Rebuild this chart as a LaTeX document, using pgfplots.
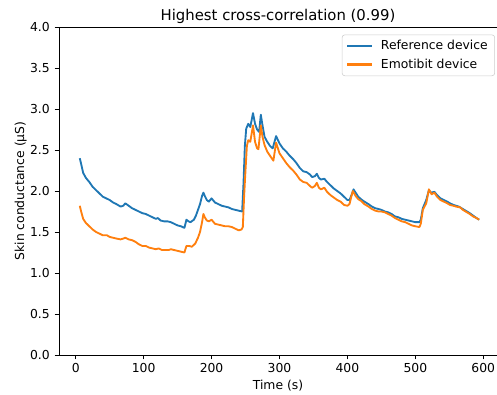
\documentclass[border=0pt]{standalone}
\usepackage{fontspec}
\setmainfont{DejaVu Sans}
\usepackage{pgfplots}
\pgfplotsset{compat=1.18}
\definecolor{mplblue}{HTML}{1F77B4}
\definecolor{mplorange}{HTML}{FF7F0E}
\pgfplotstableread{
t v
6 2.40
8 2.33
11 2.22
15 2.16
20 2.11
25 2.05
30 2.01
35 1.97
40 1.93
45 1.91
50 1.89
55 1.86
60 1.84
66 1.81
70 1.82
73 1.85
78 1.82
83 1.79
88 1.77
93 1.75
98 1.73
103 1.72
108 1.70
113 1.68
118 1.66
121 1.67
125 1.64
130 1.63
135 1.63
140 1.62
145 1.60
150 1.58
155 1.57
160 1.55
163 1.65
166 1.63
169 1.62
174 1.65
177 1.70
180 1.77
183 1.84
186 1.94
188 1.98
190 1.94
193 1.89
196 1.87
200 1.91
205 1.86
210 1.84
215 1.82
220 1.81
225 1.80
230 1.78
235 1.77
240 1.76
245 1.75
247 2.09
249 2.55
251 2.76
254 2.82
257 2.78
261 2.95
264 2.82
267 2.75
270 2.72
272.5 2.93
275 2.80
278 2.66
282 2.60
286 2.55
290 2.52
295 2.67
300 2.58
305 2.52
310 2.48
315 2.43
320 2.39
325 2.34
330 2.28
335 2.24
340 2.23
345 2.20
348 2.17
352 2.18
355 2.21
358 2.16
361 2.14
366 2.15
370 2.11
375 2.07
380 2.03
385 2.00
390 1.97
395 1.93
400 1.89
403 1.89
406 1.95
409 2.02
412 1.98
416 1.93
420 1.90
425 1.87
431 1.84
436 1.81
441 1.79
446 1.78
450 1.77
455 1.75
460 1.74
465 1.72
470 1.69
475 1.68
480 1.66
485 1.65
490 1.64
495 1.63
500 1.62
506 1.62
508 1.65
511 1.79
516 1.89
520 2.01
523 1.98
528 1.99
532 1.95
537 1.91
542 1.89
547 1.87
551 1.85
556 1.83
560 1.82
564 1.81
568 1.79
572 1.77
576 1.75
580 1.73
585 1.70
590 1.67
594 1.65
}\refdata
\pgfplotstableread{
t v
6 1.82
8 1.75
11 1.66
15 1.61
20 1.57
25 1.53
30 1.50
35 1.48
40 1.46
46 1.46
50 1.44
55 1.43
60 1.42
66 1.41
70 1.42
73 1.43
78 1.41
83 1.40
88 1.38
93 1.35
98 1.33
103 1.33
108 1.31
113 1.30
118 1.29
122 1.30
127 1.28
132 1.28
137 1.28
140 1.29
145 1.28
150 1.27
155 1.26
160 1.25
163 1.33
167 1.33
171 1.32
176 1.36
180 1.43
183 1.50
186 1.62
188 1.72
190 1.68
193 1.64
196 1.63
200 1.65
205 1.60
210 1.59
215 1.58
220 1.57
225 1.57
230 1.56
235 1.54
240 1.52
244 1.53
246 1.56
248 1.95
250 2.26
252 2.55
254 2.62
257 2.60
261 2.80
264 2.60
267 2.52
269 2.51
272.5 2.80
275 2.66
278 2.56
282 2.48
286 2.43
291 2.37
295 2.59
300 2.46
305 2.40
310 2.34
315 2.29
320 2.25
325 2.20
330 2.14
335 2.11
340 2.10
345 2.06
348 2.04
352 2.06
355 2.10
358 2.04
361 2.02
366 2.04
370 1.99
375 1.95
380 1.92
385 1.89
390 1.87
395 1.83
400 1.82
403 1.84
406 1.94
408 2.00
412 1.94
416 1.90
420 1.88
425 1.84
431 1.81
436 1.78
441 1.76
446 1.75
450 1.75
455 1.74
460 1.72
465 1.70
470 1.67
475 1.65
480 1.63
485 1.62
490 1.60
495 1.58
500 1.57
506 1.56
508 1.60
511 1.77
516 1.85
520 2.02
524 1.96
528 1.98
532 1.93
537 1.89
542 1.87
547 1.85
551 1.83
556 1.82
560 1.81
566 1.80
570 1.77
576 1.74
580 1.72
585 1.69
590 1.67
594 1.65
}\emodata
\begin{document}
\begin{tikzpicture}
\path[use as bounding box] (0,0) rectangle (357.84pt,283.68pt);
\begin{axis}[
  at={(42.48pt,28.08pt)}, anchor=south west,
  scale only axis, width=315.36pt, height=236.16pt,
  xmin=-24.6, xmax=620.2, ymin=0, ymax=4,
  axis x line*=box, axis y line*=left,
  axis line style={line width=0.71pt, black},
  xtick={0,100,...,600}, ytick={0,0.5,...,4},
  xtick pos=left, ytick pos=left,
  tick align=outside, major tick length=3.1pt,
  tick style={line width=0.71pt, black},
  /pgf/number format/assume math mode=true,
  y tick label style={/pgf/number format/fixed, /pgf/number format/fixed zerofill, /pgf/number format/precision=1},
  xticklabel style={anchor=base, yshift=-9.7pt, font=\fontsize{8.9}{10.7}\selectfont},
  yticklabel style={anchor=east, xshift=0pt, font=\fontsize{8.9}{10.7}\selectfont},
  title={Highest cross-correlation (0.99)},
  title style={at={(axis description cs:0.5,1)}, anchor=base, yshift=-1pt, font=\fontsize{10.7}{12.8}\selectfont, inner sep=0pt},
  xlabel={Time (s)},
  xlabel style={at={(axis description cs:0.5,0)}, anchor=base, yshift=-24.5pt, font=\fontsize{8.9}{10.7}\selectfont, inner sep=0pt},
  ylabel={Skin conductance (µS)},
  ylabel style={at={(axis description cs:0,0.5)}, anchor=base, yshift=25.2pt, font=\fontsize{8.9}{10.7}\selectfont, inner sep=0pt},
  legend style={at={(axis description cs:0.9954,0.977)}, anchor=north east, draw=black!20, fill=white, fill opacity=0.8, draw opacity=1, text opacity=1, rounded corners=2pt, font=\fontsize{8.9}{10.7}\selectfont, inner xsep=3pt, inner ysep=2pt, row sep=1pt, column sep=3.5pt},
  legend cell align=left,
  legend image code/.code={\draw[#1, line width=1.5pt, draw opacity=1, line cap=butt] (0pt,0pt) -- (18pt,0pt);},
]
\addplot[mplblue, line width=1.33pt, line join=round] table[x=t, y=v] {\refdata};
\addlegendentry{Reference device}
\addplot[mplorange, line width=1.33pt, line join=round] table[x=t, y=v] {\emodata};
\addlegendentry{Emotibit device}
\end{axis}
\end{tikzpicture}
\end{document}
